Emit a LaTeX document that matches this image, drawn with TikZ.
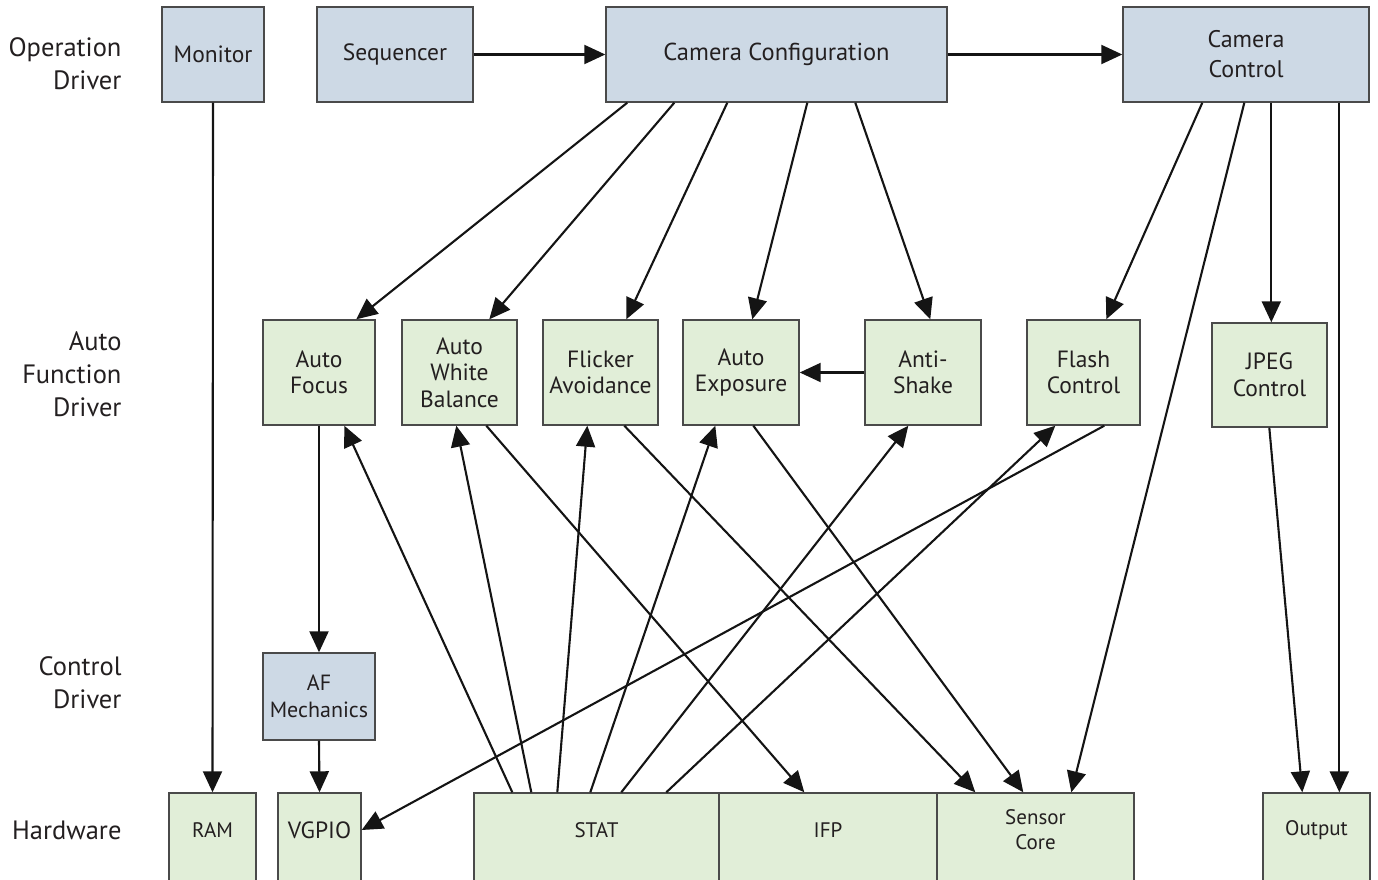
\documentclass[tikz,border=0pt]{standalone}
\usepackage{fontspec}
\setmainfont{PT Sans}
\usetikzlibrary{arrows.meta}
\definecolor{boxblue}{HTML}{CDD9E5}
\definecolor{boxgreen}{HTML}{E1EED8}
\definecolor{boxline}{HTML}{4A4A4A}
\definecolor{txt}{HTML}{231F20}
\tikzset{
  blk/.style={draw=boxline, line width=1.4pt, text=txt, align=center, inner sep=2pt,
    font=\fontsize{23.5}{26.5}\selectfont},
  blu/.style={blk, fill=boxblue},
  grn/.style={blk, fill=boxgreen},
  hw/.style={draw=boxline, line width=1.4pt, fill=boxgreen, minimum height=89},
  hwtxt/.style={text=txt, align=center, yshift=7.5pt, font=\fontsize{21}{25}\selectfont},
  lbl/.style={text=txt, align=right, anchor=east, font=\fontsize{26.5}{33}\selectfont},
  con/.style={line width=2.1pt, draw=black!92, -{Triangle[length=21pt,width=19pt]}},
}
\begin{document}
\begin{tikzpicture}[x=1pt,y=-1pt]
\useasboundingbox (0,0) rectangle (1378,880);
% row labels
\node[lbl] (l1) at (125,64) {Operation\\Driver};
\node[lbl] (l2) at (125,374) {Auto\\Function\\Driver};
\node[lbl] (l3) at (125,683) {Control\\Driver};
\node[lbl] (l4) at (125,830) {Hardware};
% top row
\node[blu, minimum width=102, minimum height=95] (mon) at (213,54.5) {Monitor};
\node[blu, minimum width=156, minimum height=95] (seq) at (395,54.5) {Sequencer};
\node[blu, minimum width=341, minimum height=95, font=\fontsize{24.5}{27}\selectfont] (cfg) at (776.5,54.5) {Camera Configuration};
\node[blu, minimum width=246, minimum height=95, font=\fontsize{24}{30}\selectfont] (ctl) at (1246,54.5) {Camera\\Control};
% auto function row
\node[grn, minimum width=112, minimum height=105] (af) at (319,372.5) {Auto\\Focus};
\node[grn, minimum width=115, minimum height=105] (awb) at (459.5,372.5) {Auto\\White\\Balance};
\node[grn, minimum width=115, minimum height=105] (fl) at (600.5,372.5) {Flicker\\Avoidance};
\node[grn, minimum width=116, minimum height=105] (ae) at (741,372.5) {Auto\\Exposure};
\node[grn, minimum width=116, minimum height=105] (as) at (923,372.5) {Anti-\\Shake};
\node[grn, minimum width=113, minimum height=105] (fc) at (1083.5,372.5) {Flash\\Control};
\node[grn, minimum width=115, minimum height=104] (jp) at (1269.5,375) {JPEG\\Control};
% control driver
\node[blu, minimum width=112, minimum height=87, font=\fontsize{22}{26.5}\selectfont] (afm) at (319,696.5) {AF\\Mechanics};
% hardware
\node[hw, minimum width=87, label={[hwtxt]center:RAM}] (ram) at (212.5,837.5) {};
\node[hw, minimum width=83, label={[hwtxt, font=\fontsize{23.5}{27}\selectfont]center:VGPIO}] (vg) at (319.5,837.5) {};
\node[hw, minimum width=245, label={[hwtxt]center:STAT}] (stat) at (596.5,837.5) {};
\node[hw, minimum width=218, label={[hwtxt]center:IFP}] (ifp) at (828,837.5) {};
\node[hw, minimum width=197, label={[hwtxt]center:Sensor\\Core}] (sc) at (1035.5,837.5) {};
\node[hw, minimum width=107, label={[hwtxt]center:Output}] (out) at (1316.5,837.5) {};
% connectors
\draw[con] (seq.east) -- (cfg.west);
\draw[con] (cfg.east) -- (ctl.west);
\draw[con] (mon.south) -- (ram.north);
\draw[con] ([xshift=22pt]cfg.south west) -- ([xshift=94pt]af.north west);
\draw[con] ([xshift=69pt]cfg.south west) -- ([xshift=88pt]awb.north west);
\draw[con] ([xshift=122pt]cfg.south west) -- ([xshift=84pt]fl.north west);
\draw[con] ([xshift=202pt]cfg.south west) -- ([xshift=70pt]ae.north west);
\draw[con] ([xshift=250pt]cfg.south west) -- ([xshift=66pt]as.north west);
\draw[con] ([xshift=80pt]ctl.south west) -- ([xshift=80pt]fc.north west);
\draw[con] ([xshift=122pt]ctl.south west) -- ([xshift=135pt]sc.north west);
\draw[con] ([xshift=149pt]ctl.south west) -- ([xshift=60pt]jp.north west);
\draw[con] ([xshift=217pt]ctl.south west) -- ([xshift=77pt]out.north west);
\draw[con] (as.west) -- (ae.east);
\draw[con] (af.south) -- (afm.north);
\draw[con] (afm.south) -- (vg.north);
\draw[con] ([xshift=58pt]jp.south west) -- ([xshift=40pt]out.north west);
\draw[con] ([xshift=39pt]stat.north west) -- ([xshift=82pt]af.south west);
\draw[con] ([xshift=58pt]stat.north west) -- ([xshift=55pt]awb.south west);
\draw[con] ([xshift=84pt]stat.north west) -- ([xshift=45pt]fl.south west);
\draw[con] ([xshift=117pt]stat.north west) -- ([xshift=33pt]ae.south west);
\draw[con] ([xshift=148pt]stat.north west) -- ([xshift=44pt]as.south west);
\draw[con] ([xshift=193pt]stat.north west) -- ([xshift=29pt]fc.south west);
\draw[con] ([xshift=78pt]fc.south west) -- ([yshift=7.5pt]vg.east);
\draw[con] ([xshift=85pt]awb.south west) -- ([xshift=86pt]ifp.north west);
\draw[con] ([xshift=82pt]fl.south west) -- ([xshift=39pt]sc.north west);
\draw[con] ([xshift=71pt]ae.south west) -- ([xshift=87pt]sc.north west);
\end{tikzpicture}
\end{document}
